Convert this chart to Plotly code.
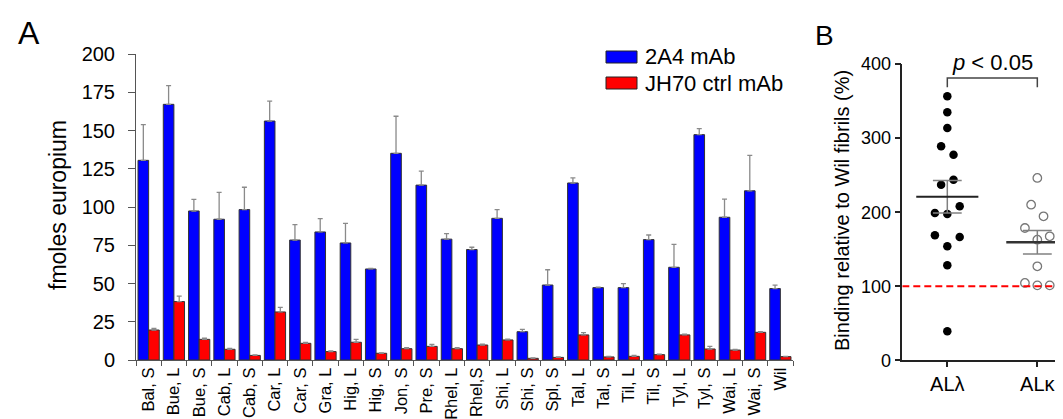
import numpy as np
import plotly.graph_objects as go

# ---------------- data: panel A ----------------
samples = ["Bal, S", "Bue, L", "Bue, S", "Cab, L", "Cab, S", "Car, L", "Car, S", "Gra, L",
           "Hig, L", "Hig, S", "Jon, S", "Pre, S", "Rhel, L", "Rhel,S", "Shi, L", "Shi, S",
           "Spl, S", "Tal, L", "Tal, S", "Til, L", "Til, S", "Tyl, L", "Tyl, S", "Wai, L",
           "Wai, S", "Wil"]
mab_2a4 = [130.5, 167.1, 97.4, 92.0, 98.3, 156.2, 78.4, 83.7, 76.5, 59.5, 135.1, 114.3, 79.0,
           72.2, 92.6, 18.5, 49.0, 115.7, 47.3, 47.3, 78.7, 60.6, 147.3, 93.3, 110.6, 46.7]
mab_2a4_err = [23.3, 12.2, 7.6, 17.6, 14.6, 13.0, 10.1, 8.7, 12.8, 0.3, 24.2, 9.1, 3.6,
               1.5, 5.7, 1.5, 10.0, 3.3, 0.3, 2.6, 3.0, 15.0, 3.9, 11.9, 23.2, 2.3]
mab_jh70 = [19.6, 38.2, 13.5, 7.0, 3.0, 31.4, 10.9, 5.5, 11.6, 4.4, 7.4, 8.9, 7.4,
            9.8, 13.1, 1.1, 1.7, 16.4, 2.0, 2.4, 3.5, 16.4, 7.2, 6.5, 18.1, 2.2]
mab_jh70_err = [1.0, 3.6, 0.8, 0.5, 0.3, 3.0, 0.6, 0.5, 1.9, 0.3, 0.6, 1.3, 0.6,
                0.5, 0.5, 0.2, 0.3, 1.5, 0.3, 0.6, 0.4, 0.5, 1.7, 0.5, 0.4, 0.2]
series_names = ["2A4 mAb", "JH70 ctrl mAb"]
ticks_a = [0, 25, 50, 75, 100, 125, 150, 175, 200]

# ---------------- data: panel B ----------------
group_labels = ["AL\u03bb", "AL\u03ba"]
lambda_vals = [356.4, 334.8, 313.6, 288.9, 277.6, 243.9, 237.1, 208.0, 198.9, 197.6,
               168.8, 166.5, 154.0, 128.3, 39.3]
kappa_vals = [246.2, 210.1, 194.5, 178.7, 162.9, 167.5, 127.0, 104.5, 101.3, 101.3]
ticks_b = [0, 100, 200, 300, 400]
reference_level = 100
p_text = "<i>p</i> < 0.05"

# beeswarm column index of each point (layout only)
lambda_cols = [0, 0, 0, -1, 1, 1, -1, 2, -2, 0, -2, 2, 0, 0, 0]
kappa_cols = [0, -1, 1, -2, 0, 2, 0, -2, 0, 2]

# ---------------- layout helpers ----------------
W, H = 1063, 419
FONT = "Arial, 'Liberation Sans', sans-serif"


def px(x):
    return x / W


def py(y):
    return (H - y) / H


fig = go.Figure()

n = len(samples)
fig.add_trace(go.Bar(
    x=samples, y=mab_2a4, name=series_names[0],
    marker=dict(color="#0000FF", line=dict(color="#333333", width=1)),
    error_y=dict(type="data", symmetric=False, array=mab_2a4_err, arrayminus=[0] * n,
                 color="#8a8a8a", thickness=1.3, width=2.5),
    xaxis="x", yaxis="y", showlegend=False))
fig.add_trace(go.Bar(
    x=samples, y=mab_jh70, name=series_names[1],
    marker=dict(color="#FF0000", line=dict(color="#333333", width=1)),
    error_y=dict(type="data", symmetric=False, array=mab_jh70_err, arrayminus=[0] * n,
                 color="#8a8a8a", thickness=1.3, width=2.5),
    xaxis="x", yaxis="y", showlegend=False))

# panel B points
step = 6.2 / 90.0
lx = [1 + c * step for c in lambda_cols]
kx = [2 + c * step for c in kappa_cols]
fig.add_trace(go.Scatter(x=lx, y=lambda_vals, mode="markers", xaxis="x2", yaxis="y2",
                         marker=dict(color="black", size=8.5), showlegend=False,
                         name=group_labels[0]))
fig.add_trace(go.Scatter(x=kx, y=kappa_vals, mode="markers", xaxis="x2", yaxis="y2",
                         marker=dict(symbol="circle-open", color="#777777", size=8.5,
                                     line=dict(width=1.3)),
                         showlegend=False, name=group_labels[1]))

# mean +/- SEM
for gx, vals, mcol, mw in [(1, lambda_vals, "#222222", 2.0), (2, kappa_vals, "#333333", 2.5)]:
    a = np.array(vals)
    m = a.mean()
    sem = a.std(ddof=1) / np.sqrt(len(a))
    hw, cw = 0.345, 0.16
    fig.add_trace(go.Scatter(x=[gx, gx, None, gx - cw, gx + cw, None, gx - cw, gx + cw],
                             y=[m - sem, m + sem, None, m + sem, m + sem, None, m - sem, m - sem],
                             mode="lines", line=dict(color="#808080", width=1.5),
                             xaxis="x2", yaxis="y2", showlegend=False, hoverinfo="skip"))
    fig.add_trace(go.Scatter(x=[gx - hw, gx + hw], y=[m, m], mode="lines",
                             line=dict(color=mcol, width=mw), xaxis="x2", yaxis="y2",
                             showlegend=False, hoverinfo="skip"))

shapes = []
# reference dashed line at 100 %
shapes.append(dict(type="line", xref="x2", yref="y2", x0=0.5, x1=2.25,
                   y0=reference_level, y1=reference_level,
                   line=dict(color="#FF0000", width=2, dash="7px,4px")))
# significance bracket
shapes.append(dict(type="path", xref="x2", yref="y2",
                   path="M 1,368.5 L 1,381 L 2,381 L 2,368.5",
                   line=dict(color="#444444", width=1.5)))
# legend swatches
shapes.append(dict(type="rect", xref="paper", yref="paper", x0=px(598), x1=px(629),
                   y0=py(55), y1=py(43), fillcolor="#0000FF", line=dict(color="#222", width=1)))
shapes.append(dict(type="rect", xref="paper", yref="paper", x0=px(598), x1=px(629),
                   y0=py(81), y1=py(69), fillcolor="#FF0000", line=dict(color="#222", width=1)))

annotations = [
    dict(text=series_names[0], xref="paper", yref="paper", x=px(635), y=py(49),
         xanchor="left", yanchor="middle", showarrow=False, font=dict(size=22, color="black", family=FONT)),
    dict(text=series_names[1], xref="paper", yref="paper", x=px(635), y=py(75),
         xanchor="left", yanchor="middle", showarrow=False, font=dict(size=22, color="black", family=FONT)),
    dict(text="fmoles europium", xref="paper", yref="paper", x=px(50), y=py(197),
         textangle=-90, showarrow=False, xanchor="center", yanchor="middle",
         font=dict(size=23, color="black", family=FONT)),
    dict(text="Binding relative to Wil fibrils (%)", xref="paper", yref="paper", x=px(834),
         y=py(203), textangle=-90, showarrow=False, xanchor="center", yanchor="middle",
         font=dict(size=20, color="black", family=FONT)),
    dict(text="A", xref="paper", yref="paper", x=px(21), y=py(25), showarrow=False,
         xanchor="center", yanchor="middle", font=dict(size=32, color="black", family=FONT)),
    dict(text="B", xref="paper", yref="paper", x=px(816), y=py(27), showarrow=False,
         xanchor="center", yanchor="middle", font=dict(size=28, color="black", family=FONT)),
    dict(text=p_text, xref="paper", yref="paper", x=px(984), y=py(54), showarrow=False,
         xanchor="center", yanchor="middle", font=dict(size=22, color="black", family=FONT)),
]

fig.update_layout(
    width=W, height=H,
    margin=dict(l=0, r=0, t=0, b=0),
    paper_bgcolor="white", plot_bgcolor="white",
    font=dict(family=FONT, color="black"),
    barmode="group", bargap=0.16, bargroupgap=0.0,
    showlegend=False,
    shapes=shapes, annotations=annotations,
    xaxis=dict(domain=[px(128), px(785)], type="category", range=[-0.5, n - 0.5],
               tickson="boundaries", ticks="outside", ticklen=5, tickcolor="#555",
               tickangle=-90, tickfont=dict(size=16.5, color="black"), ticklabelstandoff=0,
               showline=True, linecolor="#555", linewidth=1, showgrid=False,
               zeroline=False, automargin=False, anchor="y", fixedrange=True),
    yaxis=dict(domain=[py(352), py(46)], range=[0, 200], tickvals=ticks_a,
               ticks="outside", ticklen=7, tickcolor="#555", tickfont=dict(size=20, color="black"),
               ticklabelstandoff=9,
               showline=True, linecolor="#555", linewidth=1, showgrid=False,
               zeroline=False, automargin=False, anchor="x"),
    xaxis2=dict(domain=[px(894.3), 1.0], range=[0.5, 2.374], tickvals=[1, 2],
                ticktext=group_labels, ticks="outside", ticklen=5, tickcolor="#222",
                tickwidth=1.5, tickfont=dict(size=20, color="black"),
                showline=True, linecolor="#222", linewidth=1.5, showgrid=False,
                zeroline=False, automargin=False, anchor="y2"),
    yaxis2=dict(domain=[py(352.4), py(56)], range=[0, 400], tickvals=ticks_b,
                ticks="outside", ticklen=6, tickcolor="#222", tickwidth=1.5,
                tickfont=dict(size=18, color="black"),
                showline=True, linecolor="#222", linewidth=1.5, showgrid=False,
                zeroline=False, automargin=False, anchor="x2"),
)

fig.write_html("out.html")
